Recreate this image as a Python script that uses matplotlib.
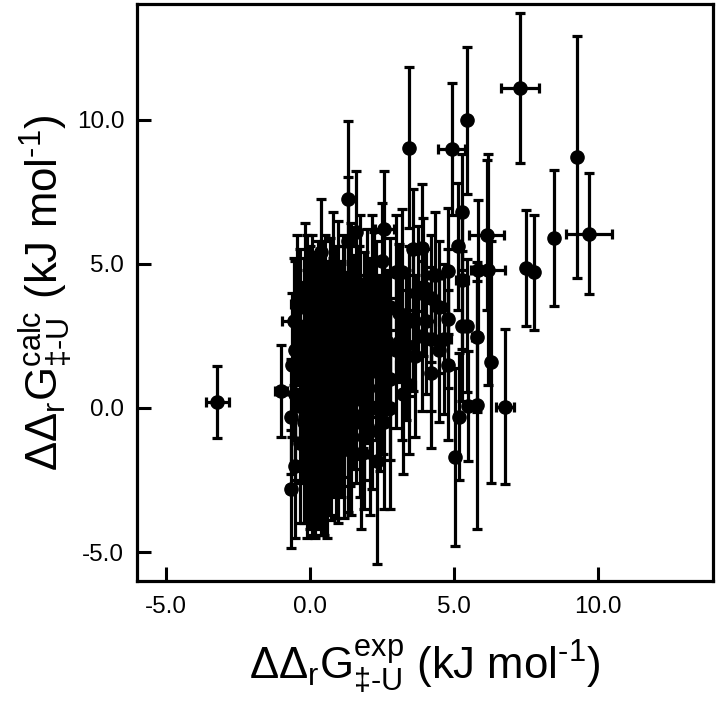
import matplotlib
matplotlib.use("Agg")
import matplotlib.pyplot as plt

plt.rcParams['font.family'] = ['Liberation Sans', 'DejaVu Sans']
plt.rcParams['mathtext.fontset'] = 'custom'
plt.rcParams['mathtext.rm'] = 'Liberation Sans'
plt.rcParams['axes.unicode_minus'] = False

x_exp = [-3.2, -1.0,
         -0.65, -0.65, -0.6, -0.55, -0.5, -0.5, -0.5, -0.35, -0.35, -0.35,
         -0.2, -0.2, -0.2, -0.1, -0.1, -0.1, 0.0, 0.0, 0.0, 0.0,
         0.1, 0.1, 0.1, 0.1, 0.2, 0.2, 0.2, 0.3, 0.3, 0.3, 0.3,
         0.4, 0.4, 0.4, 0.4, 0.5, 0.5, 0.5, 0.6, 0.6, 0.6,
         0.7, 0.7, 0.7, 0.8, 0.8, 0.8, 0.9, 0.9, 0.9,
         1.0, 1.0, 1.0, 1.1, 1.1, 1.2, 1.2, 1.2,
         1.33, 1.33, 1.35, 1.35, 1.45, 1.45, 1.45, 1.6, 1.6, 1.65,
         1.75, 1.75, 1.75, 1.9, 1.9, 1.9, 2.0, 2.0,
         2.15, 2.15, 2.15, 2.35, 2.3, 2.3, 2.45, 2.5, 2.6, 2.6, 2.6,
         2.8, 2.8, 2.8, 3.0, 3.0, 3.2, 3.2, 3.25,
         3.45, 3.45, 3.45, 3.6, 3.6, 3.65, 3.9, 3.9, 3.95,
         4.2, 4.2, 4.2, 4.5, 4.5, 4.8, 4.8, 4.8, 4.93,
         5.05, 5.15, 5.2, 5.3, 5.3, 5.3, 5.45, 5.48, 5.5,
         5.8, 5.8, 5.85, 6.15, 6.2, 6.3, 6.78,
         7.3, 7.5, 7.8, 8.5, 9.27, 9.7,
         1.05, 1.15, 1.25, 1.4, 1.5, 1.55, 1.7, 1.8, 1.85, 2.05,
         2.1, 2.25, 2.4, 2.55, 2.7, 0.05, 0.15, 0.25, 0.35, 0.45,
         0.55, 0.65, 0.75, 0.85, 0.95, -0.45, -0.3, -0.15, 3.35, 3.75,
         4.05, 4.35, 4.65, 3.1]
y_calc = [0.2, 0.6,
          -2.8, -0.3, 1.5, 3.0, -2.0, 0.5, 2.0, -1.2, 1.0, 3.5,
          -0.5, 2.5, 0.0, -2.2, 1.8, 3.9, -1.0, 0.8, 2.2, 3.2,
          -1.8, 0.2, 1.5, 4.0, -2.5, -0.4, 2.8, -1.2, 1.0, 3.6, 0.3,
          -2.0, 0.6, 2.0, 5.4, -0.8, 1.3, 3.0, -2.3, 0.0, 2.4,
          -1.5, 1.0, 3.5, -0.5, 2.0, 4.8, -1.0, 0.5, 3.0,
          -1.8, 1.5, 4.2, -0.3, 2.5, 0.8, 3.2, -1.2,
          7.25, 5.8, 1.0, -0.8, 2.0, 4.0, -1.5, 6.1, 0.3, 3.0,
          -0.5, 1.8, 4.3, 0.5, 2.8, -1.0, 3.5, 1.2,
          0.0, 2.2, 4.5, -1.85, 1.5, 3.0, 0.7, 5.1, 6.2, 2.5, -0.5,
          1.0, 3.5, 0.0, 2.0, 4.7, 4.7, 1.5, 0.5,
          9.03, 3.0, 0.8, 5.5, 3.1, 1.8, 5.55, 2.5, 4.2,
          2.4, 3.8, 1.2, 3.5, 2.0, 4.75, 3.1, 1.5, 8.98,
          -1.7, 5.6, -0.3, 6.8, 4.45, 2.83, 2.85, 9.97, 0.06,
          0.1, 2.45, 4.8, 6.0, 4.8, 1.6, 0.05,
          11.1, 4.85, 4.7, 5.9, 8.7, 6.05,
          0.2, 3.6, 1.9, -0.2, 2.6, 0.9, 3.2, -1.6, 1.4, 2.7,
          -0.8, 3.8, 2.0, 1.2, 2.3, 1.2, 3.0, 0.6, 2.3, -0.6,
          3.8, 1.5, -1.0, 0.8, 2.2, 3.6, 0.2, 4.2, 2.2, 4.0,
          3.0, 4.6, 2.4, 3.3]
x_err = [0.4, 0.2,
         0.15, 0.1, 0.1, 0.4, 0.1, 0.15, 0.1, 0.1, 0.2, 0.1,
         0.15, 0.1, 0.2, 0.1, 0.15, 0.1, 0.2, 0.1, 0.1, 0.15,
         0.1, 0.2, 0.1, 0.1, 0.15, 0.1, 0.2, 0.1, 0.1, 0.15, 0.1,
         0.2, 0.1, 0.1, 0.1, 0.1, 0.2, 0.1, 0.1, 0.15, 0.1,
         0.1, 0.1, 0.2, 0.15, 0.1, 0.1, 0.1, 0.2, 0.1,
         0.1, 0.1, 0.15, 0.2, 0.1, 0.1, 0.1, 0.2,
         0.1, 0.1, 0.15, 0.1, 0.1, 0.2, 0.1, 0.1, 0.1, 0.15,
         0.2, 0.1, 0.1, 0.1, 0.15, 0.1, 0.1, 0.2,
         0.1, 0.15, 0.1, 0.1, 0.2, 0.1, 0.1, 0.1, 0.32, 0.1, 0.15,
         0.1, 0.2, 0.1, 0.15, 0.1, 0.1, 0.2, 0.1,
         0.1, 0.1, 0.2, 0.15, 0.1, 0.1, 0.15, 0.1, 0.2,
         0.1, 0.15, 0.1, 0.2, 0.1, 0.1, 0.1, 0.15, 0.47,
         0.1, 0.1, 0.1, 0.1, 0.2, 0.1, 0.15, 0.1, 0.1,
         0.1, 0.15, 0.1, 0.6, 0.6, 0.1, 0.3,
         0.65, 0.1, 0.1, 0.1, 0.1, 0.8,
         0.25, 0.3, 0.2, 0.3, 0.25, 0.2, 0.3, 0.2, 0.25, 0.3,
         0.2, 0.25, 0.3, 0.2, 0.25, 0.3, 0.2, 0.25, 0.3, 0.2,
         0.25, 0.3, 0.2, 0.25, 0.3, 0.2, 0.25, 0.3, 0.2, 0.25,
         0.3, 0.2, 0.25, 0.3]
y_err = [1.25, 1.6,
         2.05, 2.0, 2.5, 2.2, 2.5, 3.0, 3.1, 2.8, 2.4, 2.0,
         3.5, 2.7, 2.2, 2.3, 3.0, 2.1, 3.2, 2.6, 3.0, 2.4,
         2.6, 3.4, 2.2, 2.0, 2.0, 3.0, 2.5, 3.0, 2.8, 2.2, 3.3,
         2.4, 3.0, 2.6, 1.85, 3.6, 2.5, 2.8, 2.2, 3.0, 2.7,
         2.2, 2.8, 2.4, 2.6, 3.2, 2.0, 2.8, 2.5, 2.6,
         2.2, 3.0, 2.3, 2.8, 2.6, 3.2, 2.4, 2.6,
         2.7, 2.2, 2.6, 2.8, 3.0, 2.4, 2.2, 2.1, 2.9, 2.6,
         2.6, 2.8, 2.4, 3.0, 2.6, 2.5, 2.7, 2.4,
         2.8, 2.5, 2.2, 3.55, 2.6, 2.8, 2.9, 2.0, 2.0, 2.6, 3.0,
         2.8, 2.4, 3.5, 2.7, 2.0, 2.2, 2.6, 2.8,
         2.8, 2.6, 2.4, 2.1, 2.5, 2.8, 2.2, 2.6, 2.4,
         2.5, 2.2, 2.6, 2.3, 2.5, 2.2, 2.4, 2.6, 2.3,
         3.1, 2.2, 2.2, 2.0, 2.4, 2.6, 2.3, 2.55, 1.9,
         4.3, 2.6, 2.4, 2.6, 4.0, 4.2, 2.7,
         2.6, 2.0, 2.0, 2.35, 4.2, 2.1,
         2.6, 2.4, 2.8, 2.5, 2.7, 3.0, 2.4, 2.6, 2.8, 2.5,
         2.9, 2.3, 2.6, 2.8, 2.5, 2.7, 2.4, 3.0, 2.6, 2.8,
         2.2, 2.7, 2.9, 2.6, 2.5, 2.4, 2.8, 2.2, 2.6, 2.3,
         2.5, 2.2, 2.6, 2.4]

fig = plt.figure(figsize=(7.2, 7.03), dpi=100)
ax = fig.add_axes([0.19, 0.1735, 0.8, 0.8205])

ax.errorbar(x_exp, y_calc, xerr=x_err, yerr=y_err, fmt='o', color='black',
            ms=9.5, elinewidth=2.3, capsize=3.8, capthick=2.3)

ax.set_xlim(-6, 14)
ax.set_ylim(-6, 14)
ax.set_xticks([-5, 0, 5, 10])
ax.set_yticks([-5, 0, 5, 10])
ax.set_xticklabels(['-5.0', '0.0', '5.0', '10.0'])
ax.set_yticklabels(['-5.0', '0.0', '5.0', '10.0'])
ax.tick_params(direction='in', length=10, width=2.2, labelsize=17.5,
               top=False, right=False)
ax.tick_params(axis='x', pad=11)
ax.tick_params(axis='y', pad=9)
for s in ax.spines.values():
    s.set_linewidth(2.3)

# U+2010 hyphen so mathtext does not turn it into a spaced minus
ax.set_xlabel('ΔΔ$_\\mathregular{r}$G$^\\mathregular{exp}_\\mathregular{‡\u2010U}$ (kJ mol$^\\mathregular{\u20101}$)',
              fontsize=31.5, labelpad=14)
ax.set_ylabel('ΔΔ$_\\mathregular{r}$G$^\\mathregular{calc}_\\mathregular{‡\u2010U}$ (kJ mol$^\\mathregular{\u20101}$)',
              fontsize=31.5, labelpad=2)

fig.savefig('out.png', dpi=100)
